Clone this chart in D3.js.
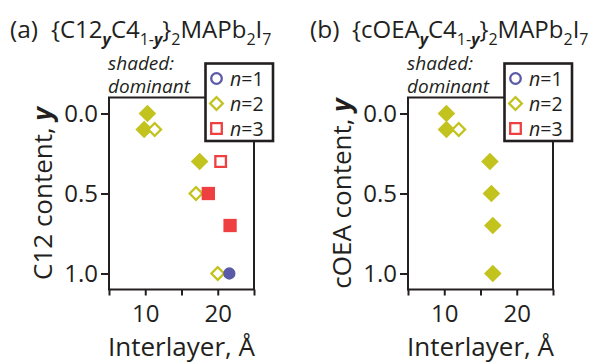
<!DOCTYPE html>
<html>
<head>
<meta charset="utf-8">
<script src="https://cdn.jsdelivr.net/npm/d3@7"></script>
<style>
  body { margin: 0; background: #fff; }
  svg { display: block; font-family: "Open Sans", sans-serif; }
</style>
</head>
<body>
<div id="chart"></div>
<script>
'use strict';

// Axis ticks
var yTickValues = [0.0, 0.5, 1.0];
var xTickValues = [5, 10, 15, 20, 25];
var xTickLabels = [10, 20];
var legendLabels = ["1", "2", "3"];

// (a) {C12_y C4_1-y}2 MAPb2I7
var c12N1Content = [1.0];
var c12N1Interlayer = [21.6];
var c12N1Dominant = [true];
var c12N2Content = [0.0, 0.1, 0.1, 0.3, 0.5, 1.0];
var c12N2Interlayer = [10.3, 9.85, 11.3, 17.5, 17.0, 20.0];
var c12N2Dominant = [true, true, false, true, false, false];
var c12N3Content = [0.3, 0.5, 0.7];
var c12N3Interlayer = [20.4, 18.7, 21.7];
var c12N3Dominant = [false, true, true];

// (b) {cOEA_y C4_1-y}2 MAPb2I7
var coeaN1Content = [];
var coeaN1Interlayer = [];
var coeaN1Dominant = [];
var coeaN2Content = [0.0, 0.1, 0.1, 0.3, 0.5, 0.7, 1.0];
var coeaN2Interlayer = [10.3, 10.3, 12.0, 16.3, 16.5, 16.7, 16.7];
var coeaN2Dominant = [true, true, false, true, true, true, true];
var coeaN3Content = [];
var coeaN3Interlayer = [];
var coeaN3Dominant = [];

var colors = {n1: "#5a5aa8", n2: "#c3c320", n3: "#ee4040"};
var ink = "#231f20";

function zip(content, inter, dom) {
  return content.map(function(c, i) {
    return {y: c, x: inter[i], dominant: dom[i]};
  });
}

var panels = [
  {
    letter: "(a)", letterX: 10, formulaX: 51,
    formula: [{t: "{C12"}, {t: "y", sub: true, bi: true}, {t: "C4"}, {t: "1-", sub: true},
              {t: "y", sub: true, bi: true}, {t: "}"}, {t: "2", sub: true}, {t: "MAPb"},
              {t: "2", sub: true}, {t: "I"}, {t: "7", sub: true}],
    yLabel: "C12 content, ", yLabelX: 52,
    left: 109, right: 254,
    n1: zip(c12N1Content, c12N1Interlayer, c12N1Dominant),
    n2: zip(c12N2Content, c12N2Interlayer, c12N2Dominant),
    n3: zip(c12N3Content, c12N3Interlayer, c12N3Dominant)
  },
  {
    letter: "(b)", letterX: 310, formulaX: 352,
    formula: [{t: "{cOEA"}, {t: "y", sub: true, bi: true}, {t: "C4"}, {t: "1-", sub: true},
              {t: "y", sub: true, bi: true}, {t: "}"}, {t: "2", sub: true}, {t: "MAPb"},
              {t: "2", sub: true}, {t: "I"}, {t: "7", sub: true}],
    yLabel: "cOEA content, ", yLabelX: 351,
    left: 408, right: 553,
    n1: zip(coeaN1Content, coeaN1Interlayer, coeaN1Dominant),
    n2: zip(coeaN2Content, coeaN2Interlayer, coeaN2Dominant),
    n3: zip(coeaN3Content, coeaN3Interlayer, coeaN3Dominant)
  }
];

var svg = d3.select("#chart").append("svg")
    .attr("width", 592)
    .attr("height", 364);

var plotTop = 97.5, plotBottom = 289.5;

function richText(sel, parts) {
  var shift = 0;
  parts.forEach(function(p) {
    var s = p.sub ? 7 : 0;
    var ts = sel.append("tspan").text(p.t).attr("dy", s - shift);
    if (p.sub) ts.attr("font-size", 16);
    if (p.bi) ts.attr("font-weight", "bold").attr("font-style", "italic");
    shift = s;
  });
}

// marker shapes (size = symbol area)
var shapes = {
  n1: {type: d3.symbolCircle, filled: Math.PI * 38, open: Math.PI * 28, rot: 0},
  n2: {type: d3.symbolSquare, filled: 155, open: 81, rot: 45},
  n3: {type: d3.symbolSquare, filled: 177, open: 112, rot: 0}
};

function markerPath(key, size) {
  return d3.symbol().type(shapes[key].type).size(size)();
}

panels.forEach(function(p) {
  var x = d3.scaleLinear().domain([5, 25]).range([p.left, p.right]);
  var y = d3.scaleLinear().domain([-0.1, 1.1]).range([plotTop, plotBottom]);
  var g = svg.append("g");

  // title
  g.append("text").attr("x", p.letterX).attr("y", 38)
    .attr("font-size", 24.5).attr("fill", ink).text(p.letter);
  richText(g.append("text").attr("x", p.formulaX).attr("y", 38)
    .attr("font-size", 24).attr("fill", ink), p.formula);

  // shaded note
  g.append("text").attr("x", p.left - 1).attr("y", 70)
    .attr("font-size", 19).attr("font-style", "italic").attr("fill", ink).text("shaded:");
  g.append("text").attr("x", p.left - 1).attr("y", 93)
    .attr("font-size", 19).attr("font-style", "italic").attr("fill", ink).text("dominant");

  // frame
  g.append("rect")
    .attr("x", p.left).attr("y", plotTop)
    .attr("width", p.right - p.left).attr("height", plotBottom - plotTop)
    .attr("fill", "none").attr("stroke", ink).attr("stroke-width", 2);

  // axes
  var yAxis = g.append("g")
      .attr("transform", "translate(" + p.left + ",0)")
      .call(d3.axisLeft(y).tickValues(yTickValues).tickSize(8).tickSizeOuter(0)
        .tickPadding(3).tickFormat(d3.format(".1f")));
  var xAxis = g.append("g")
      .attr("transform", "translate(0," + plotBottom + ")")
      .call(d3.axisBottom(x).tickValues(xTickValues).tickSize(6).tickSizeOuter(0)
        .tickPadding(9)
        .tickFormat(function(d) { return xTickLabels.indexOf(d) >= 0 ? d : ""; }));
  [yAxis, xAxis].forEach(function(a) {
    a.select(".domain").remove();
    a.selectAll("line").attr("stroke", ink).attr("stroke-width", 2);
    a.selectAll("text").attr("font-size", 24).attr("fill", ink)
      .attr("font-family", "'Open Sans', sans-serif");
  });

  // axis labels
  g.append("text")
    .attr("x", (p.left + p.right) / 2).attr("y", 356)
    .attr("text-anchor", "middle").attr("font-size", 26).attr("fill", ink)
    .text("Interlayer, \u00c5");
  var yl = g.append("text")
    .attr("transform", "translate(" + p.yLabelX + "," + y(0.5) + ") rotate(-90)")
    .attr("text-anchor", "middle").attr("font-size", 26).attr("fill", ink);
  richText(yl, [{t: p.yLabel}, {t: "y", bi: true}]);

  // points: n=2 (dominant first), n=3 (open first), n=1
  ["n2", "n3", "n1"].forEach(function(key) {
    var pts = p[key].slice();
    if (key === "n2") pts = pts.filter(function(d) { return d.dominant; })
      .concat(pts.filter(function(d) { return !d.dominant; }));
    if (key === "n3") pts = pts.filter(function(d) { return !d.dominant; })
      .concat(pts.filter(function(d) { return d.dominant; }));
    g.selectAll(".pt-" + key)
      .data(pts)
      .enter().append("path")
      .attr("class", "pt-" + key)
      .attr("d", function(d) { return markerPath(key, d.dominant ? shapes[key].filled : shapes[key].open); })
      .attr("transform", function(d) {
        return "translate(" + x(d.x) + "," + y(d.y) + ") rotate(" + shapes[key].rot + ")";
      })
      .attr("fill", function(d) { return d.dominant ? colors[key] : "#fff"; })
      .attr("stroke", function(d) { return d.dominant ? "none" : colors[key]; })
      .attr("stroke-width", 2.3);
  });

  // legend
  var lg = g.append("g").attr("transform", "translate(" + (p.left + 96.5) + ",63.5)");
  lg.append("rect").attr("width", 67.5).attr("height", 77.5)
    .attr("fill", "#fff").attr("stroke", ink).attr("stroke-width", 2.6);
  var rows = lg.selectAll(".row")
    .data(["n1", "n2", "n3"])
    .enter().append("g")
    .attr("transform", function(d, i) { return "translate(11," + (15 + i * 25) + ")"; });
  rows.append("path")
    .attr("d", function(d) { return markerPath(d, shapes[d].open); })
    .attr("transform", function(d) { return "rotate(" + shapes[d].rot + ")"; })
    .attr("fill", "#fff")
    .attr("stroke", function(d) { return colors[d]; })
    .attr("stroke-width", 2.3);
  var lt = rows.append("text").attr("x", 13.5).attr("y", 7)
    .attr("font-size", 19.5).attr("fill", ink);
  lt.append("tspan").attr("font-style", "italic").text("n");
  lt.append("tspan").text(function(d, i) { return "=" + legendLabels[i]; });
});
</script>
</body>
</html>
